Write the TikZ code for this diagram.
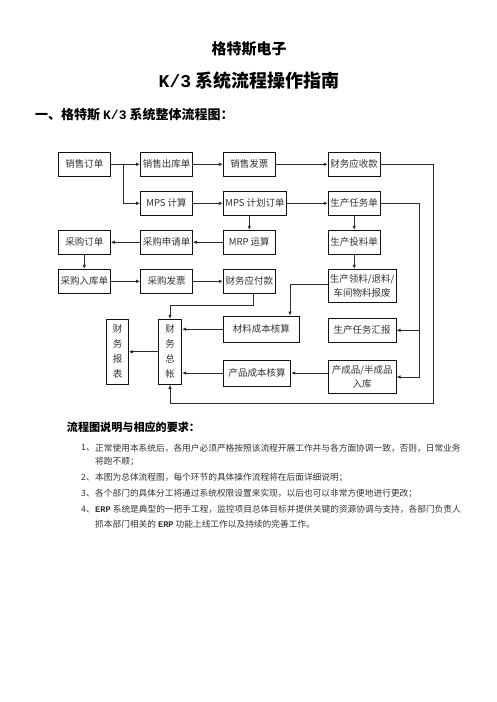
\documentclass[tikz,border=0pt]{standalone}
\usepackage{fontspec}
\usepackage{xcolor}
\usepackage{tikz}
\setmainfont{Noto Sans CJK SC}
\newfontfamily\monofnt{Liberation Mono}
\usetikzlibrary{arrows.meta}
\definecolor{flowline}{HTML}{2B2B2B}
\definecolor{boxedge}{HTML}{111111}
\definecolor{boxtext}{HTML}{333333}

\begin{document}
\begin{tikzpicture}[x=1pt,y=-1pt,
  box/.style={draw=boxedge,line width=0.9pt,inner sep=1pt,align=center,text=boxtext,
    font=\fontsize{9.5}{14}\selectfont,minimum width=52pt,minimum height=24pt},
  flow/.style={draw=flowline,line width=0.9pt,-{Latex[length=4pt,width=3.6pt]}},
  note/.style={anchor=west,inner sep=0pt,text=boxtext,font=\fontsize{8.7}{10}\selectfont}]
\useasboundingbox (0,0) rectangle (496,702);

\node[font=\fontsize{15}{18}\selectfont\bfseries] (firm) at (249,49) {格特斯电子};
\node[font=\fontsize{18}{22}\selectfont\bfseries] (doctitle) at (249,80.5) {{\monofnt K/3} 系统流程操作指南};
\node[anchor=west,inner sep=0pt,font=\fontsize{13}{16}\selectfont\bfseries] (part1) at (35,115) {一、格特斯 {\monofnt K/3} 系统整体流程图：};

% flow boxes
\node[box] (so) at (84.3,164.3) {销售订单};
\node[box] (sout) at (166.5,164.3) {销售出库单};
\node[box] (sinv) at (249.3,164.3) {销售发票};
\node[box] (ar) at (354.2,164.3) {财务应收款};
\node[box] (mps) at (166.5,203.3) {MPS 计算};
\node[box,minimum width=63.4pt] (mpsord) at (255,203.3) {MPS 计划订单};
\node[box] (task) at (354.2,203.3) {生产任务单};
\node[box] (po) at (84.3,242.2) {采购订单};
\node[box] (preq) at (166.5,242.2) {采购申请单};
\node[box] (mrp) at (249.3,242.2) {MRP 运算};
\node[box] (feed) at (354.2,242.2) {生产投料单};
\node[box] (pin) at (84.3,281.3) {采购入库单};
\node[box] (pinv) at (166.5,281.3) {采购发票};
\node[box] (ap) at (249.3,281.3) {财务应付款};
\node[box,minimum width=67.7pt,minimum height=33pt,font=\fontsize{9.5}{13.5}\selectfont] (pick) at (362.2,285.8) {生产领料/退料/\\车间物料报废};
\node[box,minimum width=21.6pt,minimum height=65pt,font=\fontsize{9.5}{15}\selectfont] (rep) at (117.5,351.8) {财\\务\\报\\表};
\node[box,minimum width=23.4pt,minimum height=65pt,font=\fontsize{9.5}{15}\selectfont] (gl) at (170,351.8) {财\\务\\总\\帐};
\node[box,minimum width=76pt,minimum height=26.3pt] (matcost) at (261.3,329.2) {材料成本核算};
\node[box,minimum width=67.7pt] (report) at (362.2,330.3) {生产任务汇报};
\node[box,minimum width=67.4pt,minimum height=26pt] (prodcost) at (257,373) {产品成本核算};
\node[box,minimum width=67.7pt,minimum height=32.6pt,font=\fontsize{9.5}{13.5}\selectfont] (fin) at (362.2,377) {产成品/半成品\\入库};

% connectors
\coordinate (fork) at (123.3,164.3);
\coordinate (apdrop) at (253.3,305.7);
\coordinate (pickturn) at (290,284.3);
\coordinate (taskrun) at (419,203.3);
\coordinate (loopcorner) at (433.3,403.3);
\draw[flow] (so) -- (sout);
\draw[flow] (fork) |- (mps);
\draw[flow] (sout) -- (sinv);
\draw[flow] (sinv) -- (ar);
\draw[flow] (mps) -- (mpsord);
\draw[flow] (mpsord) -- (task);
\draw[flow] (mpsord.south -| mrp.north) -- (mrp.north);
\draw[flow] (mrp) -- (preq);
\draw[flow] (preq) -- (po);
\draw[flow] (po) -- (pin);
\draw[flow] (pin) -- (pinv);
\draw[flow] (pinv) -- (ap);
\draw[flow] (task) -- (feed);
\draw[flow] (feed.south) -- (feed.south |- pick.north);
\draw[flow] (ap.south -| apdrop) -- (apdrop) -| (gl.north);
\draw[flow] (pick.west |- pickturn) -- (pickturn) -- (pickturn |- matcost.north);
\draw[flow] (matcost.west) -- (matcost.west -| gl.east);
\draw[flow] (prodcost.west) -- (prodcost.west -| gl.east);
\draw[flow] (gl) -- (rep);
\draw[flow] (task) -- (taskrun) |- (fin);
\draw[flow] (taskrun |- report) -- (report);
\draw[flow] (prodcost -| fin.west) -- (prodcost);
\draw[flow] (ar) -| (loopcorner) -| (gl);

% notes
\node[anchor=west,inner sep=0pt,font=\fontsize{11.1}{13}\selectfont\bfseries] (part2) at (66.7,427.7) {流程图说明与相应的要求：};
\node[note] (n1) at (81,448) {1、};
\node[note] (t1) at (95,448) {正常使用本系统后，各用户必须严格按照该流程开展工作并与各方面协调一致，否则，日常业务};
\node[note] (t1b) at (95,462) {将跑不顺；};
\node[note] (n2) at (81,478) {2、};
\node[note] (t2) at (95,478) {本图为总体流程图，每个环节的具体操作流程将在后面详细说明；};
\node[note] (n3) at (81,494) {3、};
\node[note] (t3) at (95,494) {各个部门的具体分工将通过系统权限设置来实现，以后也可以非常方便地进行更改；};
\node[note] (n4) at (81,509.5) {4、};
\node[note] (t4) at (95,509.5) {{\monofnt\bfseries ERP} 系统是典型的一把手工程，监控项目总体目标并提供关键的资源协调与支持，各部门负责人};
\node[note] (t4b) at (95,524.5) {抓本部门相关的 {\monofnt\bfseries ERP} 功能上线工作以及持续的完善工作。};
\end{tikzpicture}
\end{document}
